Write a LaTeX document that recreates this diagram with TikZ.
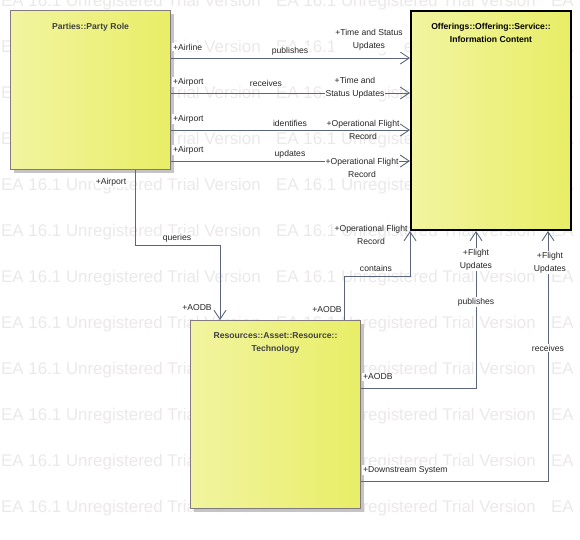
\documentclass[tikz,border=0pt]{standalone}
\usepackage{fontspec}
\setmainfont{Liberation Sans}
\usepackage{xcolor}
\usepackage{tikz}
\usetikzlibrary{positioning}
\usetikzlibrary{arrows.meta}
\usetikzlibrary{shadows}

\definecolor{boxleft}{RGB}{242,244,160}
\definecolor{boxright}{RGB}{232,238,102}
\definecolor{boxline}{RGB}{130,122,126}
\definecolor{linegray}{RGB}{92,102,122}
\definecolor{shadowgray}{RGB}{196,196,196}
\definecolor{titlegray}{RGB}{64,64,64}
\definecolor{trialgray}{RGB}{236,232,232}

\newcommand{\smallfont}{\fontsize{8.6}{13}\selectfont}
\newcommand{\trialfont}{\fontsize{16.9}{18}\selectfont}

\begin{document}
\begin{tikzpicture}[x=1pt, y=-1pt,
    block/.style={draw=boxline, line width=1pt, left color=boxleft, right color=boxright,
        anchor=north west, drop shadow={shadow xshift=3pt, shadow yshift=-3pt, fill=shadowgray, opacity=1}},
    focus/.style={draw=black, line width=2pt, left color=boxleft, right color=boxright, anchor=north west},
    boxtitle/.style={font=\smallfont\bfseries, align=center, inner sep=0pt, text=titlegray},
    assoc/.style={draw=linegray, line width=0.9pt, -{Straight Barb[length=9pt,width=12pt]}},
    role/.style={font=\smallfont, inner sep=1pt, fill=white, align=center, text=black!85},
    trialmark/.style={font=\trialfont, text=trialgray, inner sep=0pt, anchor=west}]
\useasboundingbox (0,0) rectangle (580,539);

% watermark
\foreach \row in {0,...,11}
    \foreach \col in {0,1,2}
        \node[trialmark] (wm-\row-\col) at (1+275*\col, 2+46*\row) {EA 16.1 Unregistered Trial Version};

% classes
\node[block, minimum width=160pt, minimum height=159pt] (party) at (10,10) {};
\node[focus, minimum width=160pt, minimum height=219pt] (info) at (410,10) {};
\node[block, minimum width=170pt, minimum height=188pt] (tech) at (190,320) {};

\node[boxtitle, below=13pt of party.north] (partytitle) {Parties::Party Role};
\node[boxtitle, text=black, below=13pt of info.north] (infotitle) {Offerings::Offering::Service::\\Information Content};
\node[boxtitle, below=12pt of tech.north] (techtitle) {Resources::Asset::Resource::\\Technology};

% associations
\draw[assoc] (party.east |- 0,58) -- (info.west |- 0,58);
\draw[assoc] (party.east |- 0,93) -- (info.west |- 0,93);
\draw[assoc] (party.east |- 0,130) -- (info.west |- 0,130);
\draw[assoc] (party.east |- 0,161) -- (info.west |- 0,161);
\draw[assoc] (party.south -| 135,0) |- (220,245) -- (tech.north -| 220,0);
\draw[assoc] (tech.north -| 344,0) |- (410,276) -- (info.south -| 410,0);
\draw[assoc] (tech.east |- 0,388) -| (info.south -| 476,0);
\draw[assoc] (tech.east |- 0,481) -| (info.south -| 548,0);

% role and association names
\node[role, anchor=west] (a1) at (172,47) {+Airline};
\node[role] (n1) at (290,51) {publishes};
\node[role] (e1) at (369,40) {+Time and Status\\Updates};
\node[role, anchor=west] (a2) at (172,82) {+Airport};
\node[role] (n2) at (266,83) {receives};
\node[role] (e2) at (355,87.5) {+Time and\\Status Updates};
\node[role, anchor=west] (a3) at (172,119) {+Airport};
\node[role] (n3) at (290,123) {identifies};
\node[role, fill=none] (e3) at (363,130) {+Operational Flight\\Record};
\node[role, anchor=west] (a4) at (172,150) {+Airport};
\node[role] (n4) at (290,154) {updates};
\node[role] (e4) at (362,167.5) {+Operational Flight\\Record};
\node[role] (a5) at (111,182) {+Airport};
\node[role] (n5) at (177,238) {queries};
\node[role] (e5) at (197,308) {+AODB};
\node[role, fill=none] (e6) at (371,234.5) {+Operational Flight\\Record};
\node[role] (n6) at (376,268) {contains};
\node[role] (a6) at (327,310) {+AODB};
\node[role] (e7) at (476,259.5) {+Flight\\Updates};
\node[role] (n7) at (476,302) {publishes};
\node[role, anchor=west] (a7) at (362,377) {+AODB};
\node[role] (e8) at (550,262.5) {+Flight\\Updates};
\node[role] (n8) at (548,348) {receives};
\node[role, anchor=west] (a8) at (362,470) {+Downstream System};
\end{tikzpicture}
\end{document}
